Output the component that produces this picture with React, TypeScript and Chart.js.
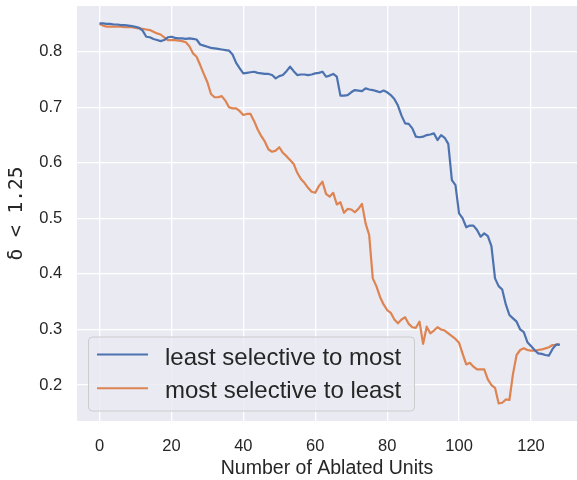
import React, { useEffect, useRef } from 'react';
import { Chart, registerables } from 'chart.js';

Chart.register(...registerables);

const units = [
  0, 1, 2, 3, 4, 5, 6, 7, 8, 9, 10, 11, 12, 13, 14, 15, 16, 17, 18, 19,
  20, 21, 22, 23, 24, 25, 26, 27, 28, 29, 30, 31, 32, 33, 34, 35, 36, 37, 38, 39,
  40, 41, 42, 43, 44, 45, 46, 47, 48, 49, 50, 51, 52, 53, 54, 55, 56, 57, 58, 59,
  60, 61, 62, 63, 64, 65, 66, 67, 68, 69, 70, 71, 72, 73, 74, 75, 76, 77, 78, 79,
  80, 81, 82, 83, 84, 85, 86, 87, 88, 89, 90, 91, 92, 93, 94, 95, 96, 97, 98, 99,
  100, 101, 102, 103, 104, 105, 106, 107, 108, 109, 110, 111, 112, 113, 114, 115, 116, 117, 118, 119,
  120, 121, 122, 123, 124, 125, 126, 127, 128,
];

const leastToMost = [
  0.851, 0.851, 0.850, 0.850, 0.849, 0.849, 0.848, 0.848, 0.847, 0.846,
  0.845, 0.843, 0.838, 0.827, 0.826, 0.823, 0.821, 0.819, 0.821, 0.826,
  0.827, 0.825, 0.824, 0.824, 0.823, 0.824, 0.823, 0.822, 0.813, 0.811,
  0.809, 0.807, 0.806, 0.805, 0.804, 0.803, 0.802, 0.795, 0.780, 0.770,
  0.761, 0.762, 0.763, 0.764, 0.762, 0.761, 0.760, 0.760, 0.758, 0.752,
  0.756, 0.758, 0.765, 0.773, 0.765, 0.758, 0.759, 0.759, 0.758, 0.759,
  0.761, 0.762, 0.764, 0.755, 0.757, 0.760, 0.755, 0.721, 0.721, 0.722,
  0.727, 0.731, 0.730, 0.729, 0.734, 0.732, 0.731, 0.729, 0.727, 0.730,
  0.727, 0.722, 0.715, 0.703, 0.685, 0.671, 0.670, 0.662, 0.647, 0.646,
  0.647, 0.650, 0.651, 0.653, 0.641, 0.650, 0.645, 0.634, 0.569, 0.560,
  0.509, 0.500, 0.484, 0.487, 0.487, 0.479, 0.467, 0.473, 0.468, 0.450,
  0.392, 0.378, 0.372, 0.345, 0.326, 0.320, 0.314, 0.300, 0.295, 0.277,
  0.270, 0.263, 0.257, 0.256, 0.254, 0.253, 0.265, 0.273, 0.272,
];

const mostToLeast = [
  0.850, 0.847, 0.845, 0.845, 0.845, 0.845, 0.845, 0.844, 0.844, 0.844,
  0.843, 0.842, 0.841, 0.840, 0.839, 0.836, 0.833, 0.831, 0.826, 0.821,
  0.821, 0.821, 0.820, 0.819, 0.817, 0.810, 0.797, 0.791, 0.776, 0.760,
  0.745, 0.724, 0.718, 0.718, 0.720, 0.712, 0.700, 0.698, 0.698, 0.693,
  0.686, 0.688, 0.688, 0.675, 0.660, 0.648, 0.638, 0.624, 0.620, 0.622,
  0.628, 0.618, 0.612, 0.605, 0.598, 0.582, 0.571, 0.564, 0.555, 0.548,
  0.546, 0.558, 0.566, 0.544, 0.539, 0.546, 0.525, 0.529, 0.510, 0.517,
  0.516, 0.511, 0.517, 0.526, 0.491, 0.470, 0.392, 0.378, 0.359, 0.345,
  0.335, 0.330, 0.318, 0.311, 0.318, 0.322, 0.310, 0.304, 0.303, 0.314,
  0.274, 0.305, 0.293, 0.298, 0.304, 0.300, 0.298, 0.293, 0.288, 0.283,
  0.276, 0.256, 0.237, 0.240, 0.233, 0.228, 0.228, 0.228, 0.210, 0.200,
  0.195, 0.167, 0.168, 0.174, 0.173, 0.220, 0.254, 0.263, 0.266, 0.263,
  0.262, 0.262, 0.263, 0.264, 0.266, 0.268, 0.272, 0.272, 0.274,
];

const seriesLabels = ['least selective to most', 'most selective to least'];
const seriesColors = ['#4C72B0', '#DD8452'];
const xTicks = [0, 20, 40, 60, 80, 100, 120];
const yTicks = [0.2, 0.3, 0.4, 0.5, 0.6, 0.7, 0.8];
const xTitle = 'Number of Ablated Units';
const yTitle = 'δ < 1.25';

const TEXT = '#262626';
const SANS = '"Liberation Sans", Arial, sans-serif';

const bgPlugin = {
  id: 'bgPlugin',
  beforeDraw(chart: any) {
    const { ctx, chartArea } = chart;
    ctx.save();
    ctx.fillStyle = '#EAEAF2';
    ctx.fillRect(chartArea.left, chartArea.top, chartArea.right - chartArea.left, chartArea.bottom - chartArea.top);
    ctx.restore();
  },
};

const legendPlugin = {
  id: 'boxLegend',
  afterDraw(chart: any) {
    const { ctx, chartArea } = chart;
    const x = chartArea.left + 11.5;
    const y = chartArea.bottom - 84;
    const w = 326;
    const h = 74;
    ctx.save();
    ctx.beginPath();
    ctx.roundRect(x, y, w, h, 4);
    ctx.fillStyle = 'rgba(234,234,242,0.8)';
    ctx.fill();
    ctx.strokeStyle = '#CCCCCC';
    ctx.lineWidth = 1;
    ctx.stroke();
    ctx.font = `24px ${SANS}`;
    ctx.textBaseline = 'alphabetic';
    ctx.textAlign = 'left';
    chart.data.datasets.forEach((ds: any, i: number) => {
      const ly = y + 17.5 + i * 33.7;
      ctx.beginPath();
      ctx.strokeStyle = ds.borderColor;
      ctx.lineWidth = 2;
      ctx.moveTo(x + 8.5, ly);
      ctx.lineTo(x + 59.5, ly);
      ctx.stroke();
      ctx.fillStyle = TEXT;
      ctx.fillText(ds.label, x + 76.5, ly + 10);
    });
    ctx.restore();
  },
};

export default function App() {
  const ref = useRef<HTMLCanvasElement | null>(null);

  useEffect(() => {
    if (!ref.current) return;
    const series = [leastToMost, mostToLeast];
    const chart = new Chart(ref.current, {
      type: 'line',
      data: {
        datasets: series.map((vals, i) => ({
          label: seriesLabels[i],
          data: units.map((u, j) => ({ x: u, y: vals[j] })),
          borderColor: seriesColors[i],
          backgroundColor: seriesColors[i],
          borderWidth: 2.2,
          pointRadius: 0,
          tension: 0,
          borderJoinStyle: 'round' as const,
          fill: false,
        })),
      },
      options: {
        animation: false,
        responsive: false,
        layout: { padding: { left: 0, right: 0, top: 6, bottom: 0 } },
        plugins: {
          legend: { display: false },
          tooltip: { enabled: false },
        },
        scales: {
          x: {
            type: 'linear',
            min: -6.26,
            max: 132.8,
            afterBuildTicks: (s: any) => {
              s.ticks = xTicks.map((v) => ({ value: v }));
            },
            afterFit: (s: any) => {
              s.height = 59;
              s.paddingLeft = 0;
              s.paddingRight = 0;
            },
            grid: { color: '#FFFFFF', lineWidth: 1.3, drawTicks: false },
            border: { display: false },
            ticks: {
              padding: 16,
              color: TEXT,
              font: { family: SANS, size: 16.5 },
              maxRotation: 0,
            },
            title: {
              display: true,
              text: xTitle,
              color: TEXT,
              font: { family: SANS, size: 19.5 },
              padding: { top: 0, bottom: 0 },
            },
          },
          y: {
            type: 'linear',
            min: 0.1352,
            max: 0.8823,
            afterBuildTicks: (s: any) => {
              s.ticks = yTicks.map((v) => ({ value: v }));
            },
            afterFit: (s: any) => {
              s.width = 77;
              s.paddingTop = 0;
              s.paddingBottom = 0;
            },
            grid: { color: '#FFFFFF', lineWidth: 1.3, drawTicks: false },
            border: { display: false },
            ticks: {
              padding: 14.7,
              color: TEXT,
              font: { family: SANS, size: 16.5 },
              callback: (v: any) => Number(v).toFixed(1),
            },
            title: {
              display: true,
              text: yTitle,
              color: TEXT,
              font: { family: '"DejaVu Sans Mono", monospace', size: 19.5 },
              padding: { top: 5, bottom: 0 },
            },
          },
        },
      },
      plugins: [bgPlugin, legendPlugin],
    });
    return () => chart.destroy();
  }, []);

  return (
    <div style={{ position: 'absolute', left: 0, top: 0, width: 577, height: 480, background: '#FFFFFF' }}>
      <canvas ref={ref} width={577} height={480} />
    </div>
  );
}
